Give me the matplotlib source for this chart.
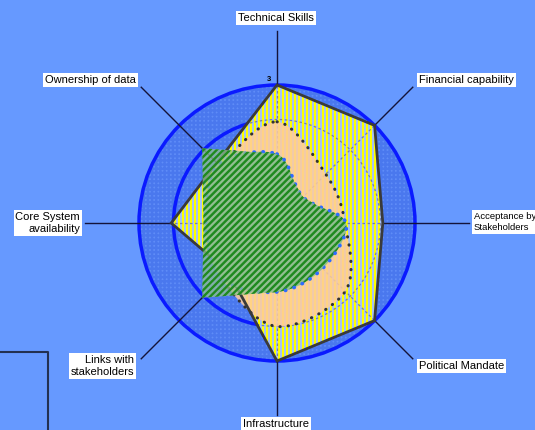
import numpy as np
import matplotlib
matplotlib.use("Agg")
import matplotlib.pyplot as plt
from matplotlib.patches import Circle, Polygon, PathPatch
from matplotlib.path import Path
from matplotlib.lines import Line2D

plt.rcParams['font.family'] = ['Liberation Sans', 'DejaVu Sans']
plt.rcParams['hatch.linewidth'] = 1.7

categories = ["Technical Skills", "Financial capability", "Acceptance by\nStakeholders",
              "Political Mandate", "Infrastructure", "Links with\nstakeholders",
              "Core System\navailability", "Ownership of data"]
target = [3, 3, 2.3, 3, 3, 1.5, 2.3, 1.85]          # yellow striped polygon
planned = [2.2, 1.5, 1.48, 2.1, 2.25, 1.7, 1.5, 1.7]  # peach, black dotted
current = [1.5, 0.8, 1.5, 1.4, 1.5, 2.3, 1.6, 2.3]    # green hatched fill
current_line = [1.5, 0.8, 1.5, 1.4, 1.5, 1.7, 1.55, 1.8]  # blue dotted line
r_max = 3
r_mid = 2.25

W, H = 535, 430
cx, cy, unit = 277, 223, 46.0  # centre pixel and pixels per unit

fig = plt.figure(figsize=(W / 100, H / 100), dpi=100)
fig.patch.set_facecolor('#6699ff')
ax = fig.add_axes([0, 0, 1, 1])
ax.set_xlim(-cx / unit, (W - cx) / unit)
ax.set_ylim((cy - H) / unit, cy / unit)
ax.axis('off')

angles = np.deg2rad(90 - 45 * np.arange(len(categories)))


def xy(vals):
    v = np.asarray(vals, float)
    return np.column_stack([v * np.cos(angles), v * np.sin(angles)])


def smooth_path(pts):
    n = len(pts)
    verts = [pts[0]]
    codes = [Path.MOVETO]
    for i in range(n):
        p0, p1, p2, p3 = pts[i - 1], pts[i], pts[(i + 1) % n], pts[(i + 2) % n]
        verts += [p1 + (p2 - p0) / 6, p2 - (p3 - p1) / 6, p2]
        codes += [Path.CURVE4] * 3
    return Path(verts, codes)


# background disk and rings
ax.add_patch(Circle((0, 0), r_max, facecolor='#5f8cf7', edgecolor='none', zorder=1))
ax.add_patch(Circle((0, 0), r_max, facecolor='none', edgecolor='#4a78ee',
                    hatch='++++', linewidth=0, zorder=1.1))
for r in (r_max, r_mid):
    ax.add_patch(Circle((0, 0), r, facecolor='none', edgecolor='#0a1aff', lw=2.5, zorder=2))

# spokes / leader lines
spoke = 192 / unit
for a in angles:
    ax.plot([0, spoke * np.cos(a)], [0, spoke * np.sin(a)], color='#14143a', lw=1, zorder=2.5)

# yellow striped polygon
ypoly = Polygon(xy(target), closed=True, facecolor='#a6c2f6', edgecolor='none', zorder=3)
ax.add_patch(ypoly)
xs = np.arange(-r_max, r_max, 4 / unit)
stripes = ax.vlines(xs, -r_max, r_max, color='#ffff00', lw=1.15, zorder=3.1, antialiased=False)
stripes.set_clip_path(ypoly)

# radar gridlines (dashed) visible over the yellow area
gc = Circle((0, 0), r_mid, facecolor='none', edgecolor='#7a7fa8', lw=0.9, ls=(0, (2, 2)), zorder=3.2)
ax.add_patch(gc)
gc.set_clip_path(ypoly)
for a in angles:
    ln, = ax.plot([0, r_max * np.cos(a)], [0, r_max * np.sin(a)], color='#7a7fa8',
                  lw=0.9, ls=(0, (2, 2)), zorder=3.2)
    ln.set_clip_path(ypoly)

# peach planned area
ppath = smooth_path(xy(planned))
ax.add_patch(PathPatch(ppath, facecolor='#ffcc9c', edgecolor='none', alpha=0.85, zorder=4))
ax.add_patch(PathPatch(ppath, facecolor='none', edgecolor='#333333', lw=2.2,
                       ls=(0, (0.1, 2.6)), capstyle='round', zorder=4.2))

ax.add_patch(Polygon(xy(target), closed=True, facecolor='none', edgecolor='#3a3a3a', lw=2, zorder=4.5))

# green hatched current area: smooth part, blue dotted line, then straight corners
cpath = smooth_path(xy(current_line))
green_face, green_hatch = '#92c092', '#1f8a1f'
ax.add_patch(PathPatch(cpath, facecolor=green_face, edgecolor='none', zorder=5))
ax.add_patch(PathPatch(cpath, facecolor='none', edgecolor=green_hatch, hatch='/////', lw=0, zorder=5.1))
ax.add_patch(PathPatch(cpath, facecolor='none', edgecolor='#2f6bff', lw=2.6,
                       ls=(0, (0.1, 2.4)), capstyle='round', zorder=5.5))
gpts = xy(current)
ax.add_patch(Polygon(gpts, closed=True, facecolor=green_face, edgecolor='none', alpha=0.75, zorder=6))
ax.add_patch(Polygon(gpts, closed=True, facecolor='none', edgecolor=green_hatch, hatch='/////',
                     lw=0, zorder=6.1))

ax.text(-0.12, r_max + 0.05, "3", fontsize=5.5, fontweight='bold', ha='right', va='bottom', zorder=7)

# category labels
box = dict(facecolor='white', edgecolor='none', pad=1.2)
label_pos = [(276, 18, 'center', 8), (419, 80, 'left', 8), (474, 222, 'left', 6.8),
             (419, 366, 'left', 8), (276, 424, 'center', 8), (134, 366, 'right', 8),
             (80, 223, 'right', 8), (136, 80, 'right', 8)]
for name, (px, py, ha, fs) in zip(categories, label_pos):
    fig.text(px / W, 1 - py / H, name, ha=ha, va='center', fontsize=fs,
             multialignment=ha if ha != 'center' else 'center', bbox=box,
             linespacing=1.3, zorder=10)

# corner frame line bottom-left
fig.add_artist(Line2D([0, 48 / W, 48 / W], [1 - 352 / H, 1 - 352 / H, 0],
                      color='#233152', lw=1.5))

fig.savefig("out.png", dpi=100, facecolor=fig.get_facecolor())
